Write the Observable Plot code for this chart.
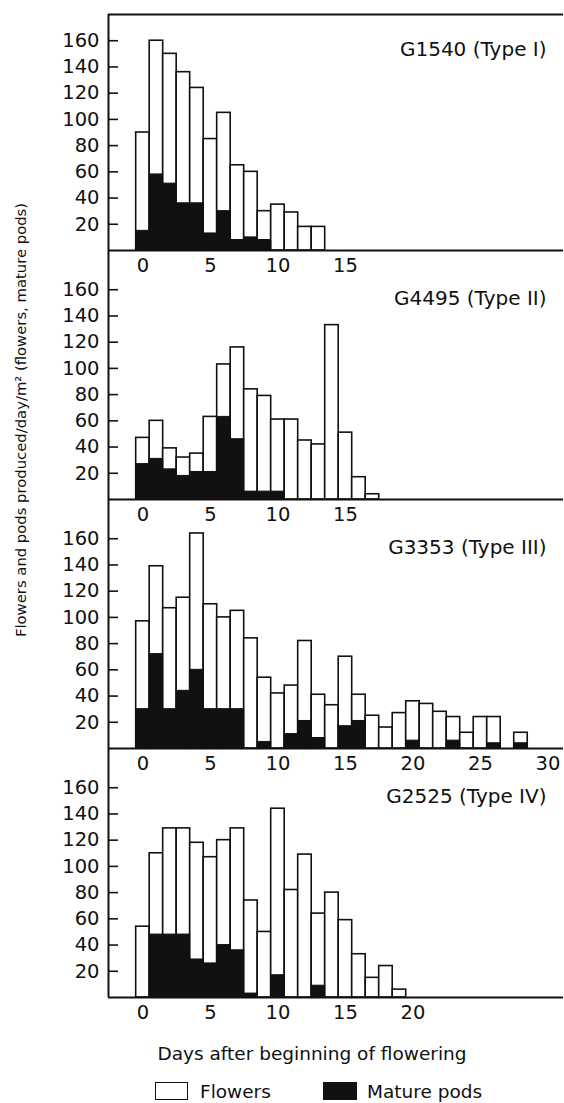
<!DOCTYPE html>
<html>
<head>
<meta charset="utf-8">
<script src="https://cdn.jsdelivr.net/npm/d3@7"></script>
<script src="https://cdn.jsdelivr.net/npm/@observablehq/plot@0.6"></script>
<style>
  body { margin: 0; background: #fff; }
  #wrap { position: relative; width: 564px; height: 1103px; font-family: "DejaVu Sans", sans-serif; color: #111; overflow: hidden; }
  #chart { position: absolute; left: 0; top: 0; }
  #ytitle { position: absolute; left: 20px; top: 420px; transform: translate(-50%, -50%) rotate(-90deg); white-space: nowrap; font-size: 14.8px; }
  #xtitle { position: absolute; left: 312px; top: 1053px; transform: translate(-50%, -50%); white-space: nowrap; font-size: 18.5px; }
  .sw { position: absolute; top: 1082px; height: 18px; box-sizing: border-box; border: 1.6px solid #111; }
  .lt { position: absolute; top: 1091px; transform: translateY(-50%); font-size: 18.5px; white-space: nowrap; }
</style>
</head>
<body>
<div id="wrap">
  <div id="chart"></div>
  <div id="ytitle">Flowers and pods produced/day/m² (flowers, mature pods)</div>
  <div id="xtitle">Days after beginning of flowering</div>
  <div class="sw" style="left:155px;width:33px;background:#fff;"></div>
  <div class="lt" style="left:200px;">Flowers</div>
  <div class="sw" style="left:323px;width:34px;background:#111;"></div>
  <div class="lt" style="left:367px;">Mature pods</div>
</div>
<script>
// Panels (genotype, growth habit)
const panels = ["G1540 (Type I)", "G4495 (Type II)", "G3353 (Type III)", "G2525 (Type IV)"];

// Flowers and mature pods per day (day = index from beginning of flowering)
const g1540Flowers = [90, 160, 150, 136, 124, 85, 105, 65, 60, 30, 35, 29, 18, 18];
const g1540Pods    = [15, 58, 51, 36, 36, 13, 30, 8, 10, 8, 0, 0, 0, 0];

const g4495Flowers = [47, 60, 39, 32, 35, 63, 103, 116, 84, 79, 61, 61, 45, 42, 133, 51, 17, 4];
const g4495Pods    = [27, 31, 23, 18, 21, 21, 63, 46, 6, 6, 6, 0, 0, 0, 0, 0, 0, 0];

const g3353Flowers = [97, 139, 107, 115, 164, 110, 100, 105, 84, 54, 42, 48, 82, 41, 33, 70, 41, 25, 16, 27, 36, 34, 28, 24, 12, 24, 24, 0, 12];
const g3353Pods    = [30, 72, 30, 44, 60, 30, 30, 30, 0, 5, 0, 11, 21, 8, 0, 17, 21, 0, 0, 0, 6, 0, 0, 6, 0, 0, 4, 0, 4];

const g2525Flowers = [54, 110, 129, 129, 118, 107, 120, 129, 74, 50, 144, 82, 109, 64, 80, 59, 33, 15, 24, 6];
const g2525Pods    = [0, 48, 48, 48, 29, 26, 40, 36, 3, 0, 17, 0, 0, 9, 0, 0, 0, 0, 0, 0];

// Tick labels
const yTicks  = [20, 40, 60, 80, 100, 120, 140, 160];
const xTicks1 = [0, 5, 10, 15];
const xTicks2 = [0, 5, 10, 15];
const xTicks3 = [0, 5, 10, 15, 20, 25, 30];
const xTicks4 = [0, 5, 10, 15, 20];

// Build tables
const series = [
  [panels[0], g1540Flowers, g1540Pods],
  [panels[1], g4495Flowers, g4495Pods],
  [panels[2], g3353Flowers, g3353Pods],
  [panels[3], g2525Flowers, g2525Pods]
];
const rows = [];
series.forEach(([panel, fl, po]) => fl.forEach((f, i) => rows.push({panel, day: i, flowers: f, pods: po[i]})));
const tickRows = [];
[[panels[0], xTicks1], [panels[1], xTicks2], [panels[2], xTicks3], [panels[3], xTicks4]]
  .forEach(([panel, ts]) => ts.forEach(t => tickRows.push({panel, tick: t})));

const xLo = -2.55, xHi = 31.15;
const ink = "#111";

const chart = Plot.plot({
  width: 564,
  height: 1030,
  marginLeft: 108,
  marginRight: 1,
  marginTop: 13,
  marginBottom: 31,
  style: {fontFamily: "DejaVu Sans", fontSize: "19.5px", color: ink, background: "white"},
  x: {domain: [xLo, xHi], axis: null},
  y: {domain: [0, 180], axis: null},
  fy: {domain: panels, axis: null, paddingInner: 0.051, paddingOuter: 0},
  marks: [
    Plot.rect(rows.filter(d => d.flowers > 0), {
      x1: d => d.day - 0.5, x2: d => d.day + 0.5, y1: () => 0, y2: "flowers", fy: "panel",
      fill: "white", stroke: ink, strokeWidth: 1.6
    }),
    Plot.rect(rows.filter(d => d.pods > 0), {
      x1: d => d.day - 0.5, x2: d => d.day + 0.5, y1: () => 0, y2: "pods", fy: "panel",
      fill: ink, stroke: ink, strokeWidth: 1
    }),
    Plot.ruleY([0], {stroke: ink, strokeWidth: 2}),
    Plot.ruleY([180], {fy: () => panels[0], stroke: ink, strokeWidth: 1.8}),
    Plot.ruleX(panels.slice(0, 3), {x: () => xLo, fy: d => d, stroke: ink, strokeWidth: 2, insetBottom: -13}),
    Plot.ruleX(panels.slice(3), {x: () => xLo, fy: d => d, stroke: ink, strokeWidth: 2}),
    Plot.ruleY(yTicks, {x1: () => xLo, x2: () => xLo + 0.74, stroke: ink, strokeWidth: 1.6}),
    Plot.axisY({ticks: yTicks, tickSize: 0, tickPadding: 9, label: null, fontSize: 19.5}),
    Plot.text(tickRows, {x: "tick", y: () => 0, fy: "panel", text: d => String(d.tick), dy: 15, lineAnchor: "middle", fontSize: 19.5, fill: ink}),
    Plot.text(panels, {fy: d => d, text: d => d, frameAnchor: "top-right", dx: -17, dy: 35, lineAnchor: "middle", fontSize: 20, fill: ink})
  ]
});
document.getElementById("chart").appendChild(chart);
</script>
</body>
</html>
